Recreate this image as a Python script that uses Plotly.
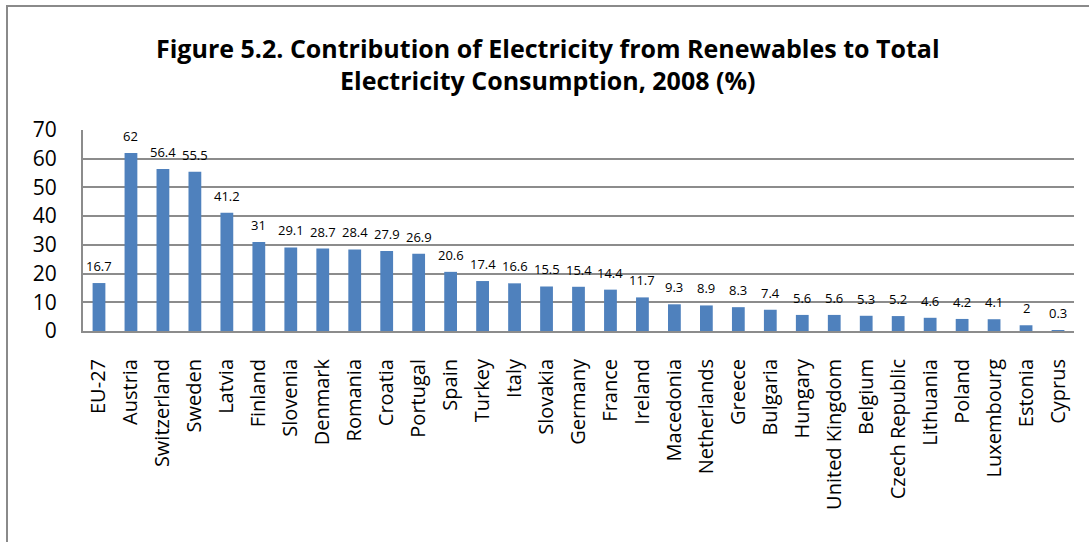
import plotly.graph_objects as go

countries = [
    "EU-27", "Austria", "Switzerland", "Sweden", "Latvia", "Finland", "Slovenia",
    "Denmark", "Romania", "Croatia", "Portugal", "Spain", "Turkey", "Italy",
    "Slovakia", "Germany", "France", "Ireland", "Macedonia", "Netherlands",
    "Greece", "Bulgaria", "Hungary", "United Kingdom", "Belgium",
    "Czech Republic", "Lithuania", "Poland", "Luxembourg", "Estonia", "Cyprus",
]
share_pct = [
    16.7, 62, 56.4, 55.5, 41.2, 31, 29.1, 28.7, 28.4, 27.9, 26.9, 20.6, 17.4,
    16.6, 15.5, 15.4, 14.4, 11.7, 9.3, 8.9, 8.3, 7.4, 5.6, 5.6, 5.3, 5.2, 4.6,
    4.2, 4.1, 2, 0.3,
]
y_ticks = [0, 10, 20, 30, 40, 50, 60, 70]

FONT = "'Open Sans', sans-serif"
GRID = "#8c8c8c"

W, H = 1089, 542
ML, MR, MT, MB = 83, 15, 130, 211
pw, ph = W - ML - MR, H - MT - MB

fig = go.Figure(
    go.Bar(
        x=countries,
        y=share_pct,
        marker=dict(color="#4F81BD", line=dict(width=0)),
        width=0.4,
        cliponaxis=False,
    )
)

# value labels floating above each bar
for name, val in zip(countries, share_pct):
    fig.add_annotation(
        x=name, y=val, xref="x", yref="y",
        text=f"{val:g}", showarrow=False,
        yanchor="middle", yshift=17,
        font=dict(family=FONT, size=13, color="#000000"),
    )

# outer chart frame (left and top edges visible, the rest runs off the page)
fig.add_shape(
    type="rect", xref="paper", yref="paper",
    x0=(7 - ML) / pw, x1=(W + 20 - ML) / pw,
    y0=(ph + MT - (H + 20)) / ph, y1=(ph + MT - 6) / ph,
    line=dict(color="#8a8a8a", width=2), fillcolor="rgba(0,0,0,0)", layer="below",
)

fig.update_layout(
    width=W, height=H,
    margin=dict(l=ML, r=MR, t=MT, b=MB),
    paper_bgcolor="white", plot_bgcolor="white",
    showlegend=False,
    title=dict(
        text="<b>Figure 5.2. Contribution of Electricity from Renewables to Total<br>Electricity Consumption, 2008 (%)</b>",
        x=0.503, xanchor="center", y=0.893, yanchor="middle",
        font=dict(family=FONT, size=25, color="#000000"),
    ),
    xaxis=dict(
        tickangle=-90,
        tickfont=dict(family=FONT, size=20, color="#000000"),
        showline=True, linecolor=GRID, linewidth=2,
        showgrid=False, ticks="",
        ticklabelstandoff=18,
    ),
    yaxis=dict(
        range=[0, 70],
        tickvals=y_ticks,
        tickfont=dict(family=FONT, size=21, color="#000000"),
        showline=True, linecolor=GRID, linewidth=2,
        showgrid=True, gridcolor=GRID, gridwidth=2,
        zeroline=False, ticks="", ticklen=0,
        ticklabelstandoff=20,
    ),
    bargap=0.6,
)

fig.write_html("out.html")
